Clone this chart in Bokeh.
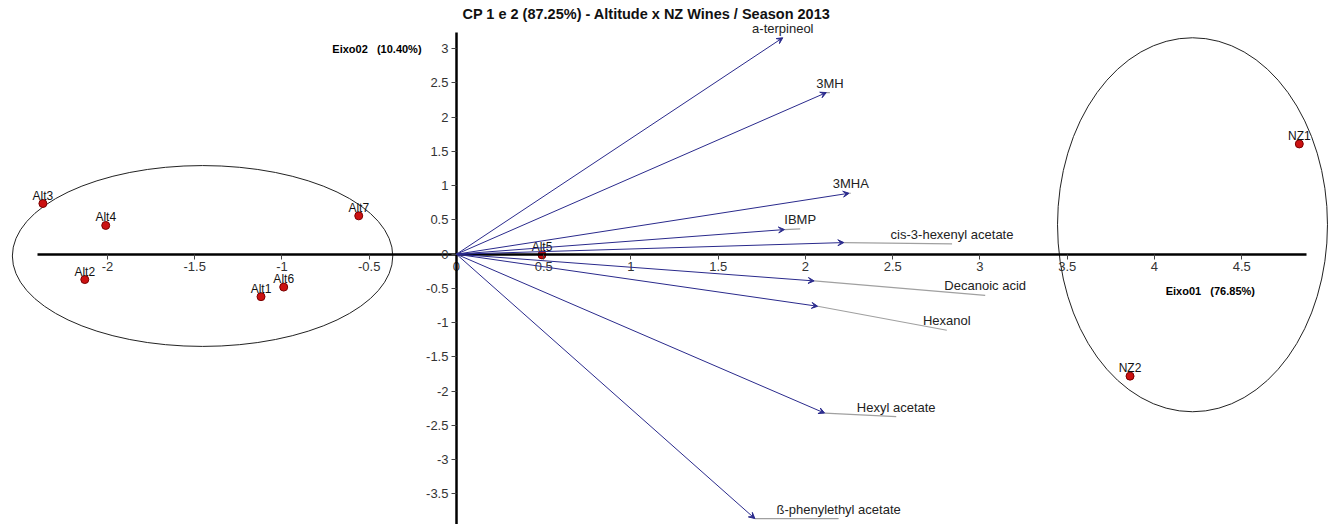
from bokeh.plotting import figure
from bokeh.models import (ColumnDataSource, LinearAxis, FixedTicker, Range1d,
                          Arrow, VeeHead, Label)
from bokeh.core.properties import value
from bokeh.embed import file_html
from bokeh.resources import INLINE

# ---- PCA scores (samples) ----
sample_names = ["Alt1", "Alt2", "Alt3", "Alt4", "Alt5", "Alt6", "Alt7", "NZ1", "NZ2"]
sample_pc1 = [-1.12, -2.13, -2.37, -2.01, 0.49, -0.99, -0.56, 4.83, 3.86]
sample_pc2 = [-0.62, -0.37, 0.74, 0.42, -0.01, -0.48, 0.56, 1.61, -1.78]

# ---- PCA loadings (aroma compounds) ----
compound_names = ["a-terpineol", "3MH", "3MHA", "IBMP", "cis-3-hexenyl acetate",
                  "Decanoic acid", "Hexanol", "Hexyl acetate", "ß-phenylethyl acetate"]
loading_pc1 = [1.87, 2.12, 2.25, 1.88, 2.22, 2.05, 2.07, 2.11, 1.71]
loading_pc2 = [3.16, 2.36, 0.89, 0.36, 0.17, -0.39, -0.76, -2.32, -3.86]

# ---- group ellipses: centre, full width, full height ----
group_x = [-1.455, 4.218]
group_y = [-0.026, 0.43]
group_w = [2.18, 1.547]
group_h = [2.64, 5.46]

# ---- ticks ----
x_ticks = [-2, -1.5, -1, -0.5, 0, 0.5, 1, 1.5, 2, 2.5, 3, 3.5, 4, 4.5]
x_tick_labels = ["-2", "-1.5", "-1", "-0.5", "0", "0.5", "1", "1.5", "2", "2.5",
                 "3", "3.5", "4", "4.5"]
y_ticks = [-3.5, -3, -2.5, -2, -1.5, -1, -0.5, 0, 0.5, 1, 1.5, 2, 2.5, 3]
y_tick_labels = ["-3.5", "-3", "-2.5", "-2", "-1.5", "-1", "-0.5", "0", "0.5", "1",
                 "1.5", "2", "2.5", "3"]

# label anchors at the end of each leader line
label_anchor_x = [1.87, 2.14, 2.26, 1.97, 2.84, 3.03, 2.81, 2.52, 2.19]
label_anchor_y = [3.16, 2.36, 0.89, 0.37, 0.15, -0.60, -1.11, -2.37, -3.86]

FONT = "Liberation Sans"
NBSP3 = "\u00a0\u00a0\u00a0"

p = figure(width=1333, height=524,
           x_range=Range1d(-2.613, 5.026), y_range=Range1d(-3.946, 3.704),
           output_backend="svg", toolbar_location=None, min_border=0,
           x_axis_location=None, y_axis_location=None,
           outline_line_color=None, background_fill_color="white")
p.xgrid.visible = False
p.ygrid.visible = False

# axes crossing at the origin
xaxis = LinearAxis(fixed_location=0, bounds=(-2.40, 4.87),
                   ticker=FixedTicker(ticks=x_ticks),
                   major_label_overrides=dict(zip(x_ticks, x_tick_labels)))
yaxis = LinearAxis(fixed_location=0, bounds=(-4.2, 3.24),
                   ticker=FixedTicker(ticks=y_ticks),
                   major_label_overrides=dict(zip(y_ticks, y_tick_labels)))
for ax in (xaxis, yaxis):
    ax.axis_line_width = 2.5
    ax.axis_line_color = "black"
    ax.major_tick_line_color = "#444444"
    ax.major_tick_in = 0
    ax.major_tick_out = 5
    ax.minor_tick_line_color = None
    ax.major_label_text_font = FONT
    ax.major_label_text_font_size = "13px"
    ax.major_label_text_color = "#333333"
    ax.major_label_standoff = 3
p.add_layout(xaxis, "below")
p.add_layout(yaxis, "left")

# group ellipses
p.ellipse(x=group_x, y=group_y, width=group_w, height=group_h,
          fill_alpha=0, line_color="#222222", line_width=1)

# leader lines from loading tips to labels
p.segment(x0=loading_pc1, y0=loading_pc2, x1=label_anchor_x, y1=label_anchor_y,
          line_color="#a0a0a0", line_width=1.2)

# loading vectors
vec_src = ColumnDataSource(dict(x0=[0] * len(loading_pc1), y0=[0] * len(loading_pc2),
                                x1=loading_pc1, y1=loading_pc2))
p.add_layout(Arrow(source=vec_src, x_start="x0", y_start="y0", x_end="x1", y_end="y1",
                   line_color="#2a2a8c", line_width=1,
                   end=VeeHead(size=6, line_color="#2a2a8c", fill_color="#2a2a8c",
                               line_width=1)))

p.text(x=label_anchor_x, y=label_anchor_y, text=compound_names,
       text_font=value(FONT), text_font_size="13px", text_color="#222222",
       text_align="center", text_baseline="bottom", y_offset=-2)

# sample scores
p.scatter(x=sample_pc1, y=sample_pc2, size=8, fill_color="#cc1111",
          line_color="#7a0000", line_width=1)
p.text(x=sample_pc1, y=sample_pc2, text=sample_names,
       text_font=value(FONT), text_font_size="12px", text_color="#111111",
       text_align="center", text_baseline="bottom", y_offset=-1)

# axis titles
p.add_layout(Label(x=-0.20, y=3.0, text="Eixo02" + NBSP3 + "(10.40%)", text_font=FONT,
                   text_font_size="11px", text_font_style="bold", text_color="black",
                   text_align="right", text_baseline="middle"))
p.add_layout(Label(x=4.32, y=-0.54, text="Eixo01" + NBSP3 + "(76.85%)", text_font=FONT,
                   text_font_size="11px", text_font_style="bold", text_color="black",
                   text_align="center", text_baseline="middle"))

# chart title
p.add_layout(Label(x=646, y=511, x_units="screen", y_units="screen",
                   text="CP 1 e 2 (87.25%) - Altitude x NZ Wines / Season 2013",
                   text_font=FONT, text_font_size="14.5px", text_font_style="bold",
                   text_align="center", text_baseline="middle", text_color="#111111"))

open("out.html", "w").write(file_html(p, INLINE))
